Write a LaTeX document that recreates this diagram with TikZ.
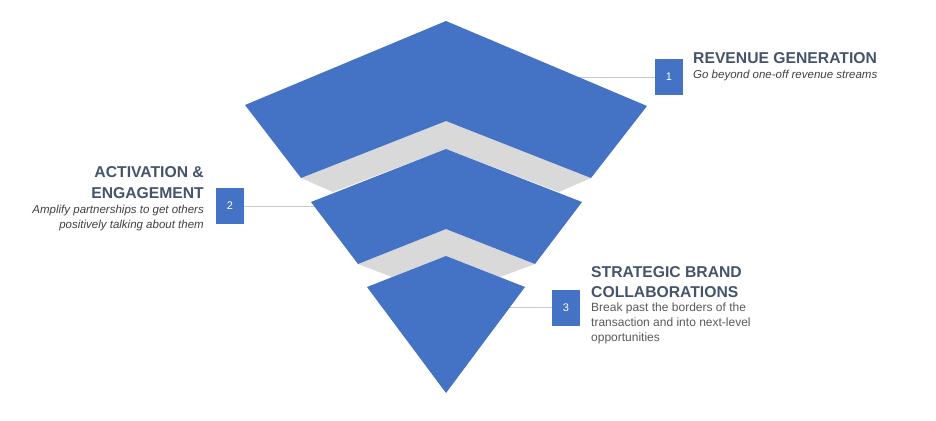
\documentclass[tikz,border=0pt]{standalone}
\usepackage{fontspec}
\setmainfont{Liberation Sans}
\definecolor{fblue}{HTML}{4472C4}
\definecolor{fgray}{HTML}{D9D9D9}
\definecolor{ttl}{HTML}{44546A}
\definecolor{sub}{HTML}{404040}
\definecolor{bod}{HTML}{595959}
\definecolor{lnc}{HTML}{C8C8C8}
\begin{document}
\begin{tikzpicture}[x=1pt,y=-1pt,
  numbox/.style={fill=fblue,text=white,minimum width=28pt,minimum height=36pt,inner sep=0pt,font=\fontsize{11}{13}\selectfont},
  title/.style={text=ttl,font=\fontsize{15.7}{20}\selectfont\bfseries,inner sep=0pt},
  subt/.style={text=sub,font=\fontsize{11.5}{15}\selectfont\itshape,inner sep=0pt},
  body/.style={text=bod,font=\fontsize{12}{15}\selectfont,inner sep=0pt},
  conn/.style={draw=lnc,line width=0.9pt},
  layer/.style={fill=fblue},
  band/.style={fill=fgray}]
\useasboundingbox (0,0) rectangle (936,420);
% boxes
\node[numbox] (b1) at (669,77) {1};
\node[numbox] (b2) at (230,206) {2};
\node[numbox] (b3) at (566,307.5) {3};
% connector ends (under the funnel)
\coordinate (c1) at (570,77);
\coordinate (c2) at (330,206);
\coordinate (c3) at (500,307.5);
\draw[conn] (b1.west) -- (c1);
\draw[conn] (b2.east) -- (c2);
\draw[conn] (b3.west) -- (c3);
% funnel
\fill[band] (301,178) -- (446,121) -- (591,178) -- (559,192) -- (446,149) -- (333,192) -- cycle;
\fill[band] (358,264) -- (446,229) -- (535,264) -- (500,277) -- (446,256) -- (392,277) -- cycle;
\fill[layer] (446,21) -- (647,106) -- (591,178) -- (446,121) -- (301,178) -- (245,105) -- cycle;
\fill[layer] (446,149) -- (582,202) -- (535,264) -- (446,229) -- (358,264) -- (311,202) -- cycle;
\fill[layer] (446,256) -- (525,287) -- (446,393) -- (367,287) -- cycle;
% texts
\node[title,anchor=base west] (t1) at (693,63.5) {REVENUE GENERATION};
\node[subt,anchor=base west] (s1) at (693,78.5) {Go beyond one-off revenue streams};
\node[title,anchor=base east] (t2a) at (204,177) {ACTIVATION \&};
\node[title,anchor=base east] (t2b) at (204,198) {ENGAGEMENT};
\node[subt,anchor=base east] (s2a) at (204,213) {Amplify partnerships to get others};
\node[subt,anchor=base east] (s2b) at (204,228) {positively talking about them};
\node[title,anchor=base west] (t3a) at (591,277) {STRATEGIC BRAND};
\node[title,anchor=base west] (t3b) at (591,297) {COLLABORATIONS};
\node[body,anchor=base west] (s3a) at (591,311) {Break past the borders of the};
\node[body,anchor=base west] (s3b) at (591,326) {transaction and into next-level};
\node[body,anchor=base west] (s3c) at (591,341) {opportunities};
\end{tikzpicture}
\end{document}
